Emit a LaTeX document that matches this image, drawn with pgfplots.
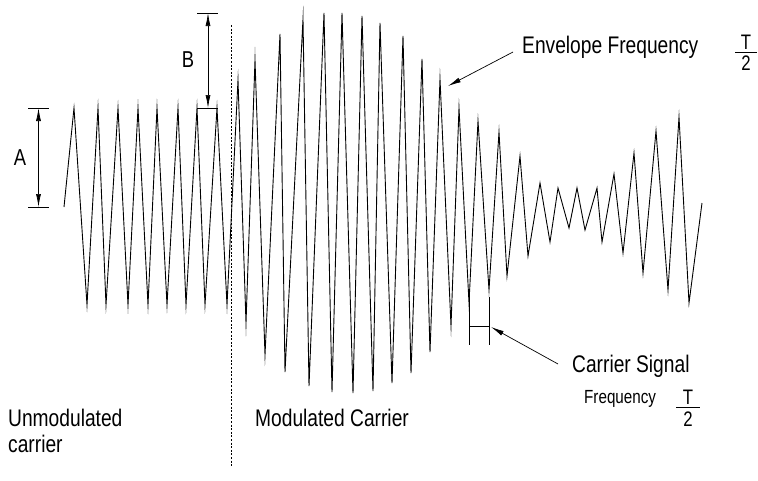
\documentclass[border=0pt]{standalone}
\usepackage{pgfplots}
\pgfplotsset{compat=1.18}
\usepackage{fontspec}
\setmainfont{Liberation Sans}[FakeStretch=0.8]
\usetikzlibrary{arrows.meta}
\pgfplotstableread{
x y
64 207
74 108
87 305
98 108
106 305
118 108
128 305
138 108
148 305
157 108
167 305
178 108
186 305
197 108
205 305
217 108
227 305
238 80
246 323
255 60
265 355
280 34
285 372
303 19
309 386
324 13
332 392
342 13
353 393
362 16
373 391
380 23
392 383
403 36
411 373
422 59
430 352
440 79
451 326
459 108
469 303
478 121
489 290
499 132
507 276
520 156
528 256
540 183
550 242
558 188
569 228
577 188
585 230
597 188
602 242
614 174
623 253
634 153
643 273
656 131
668 290
679 117
689 303
702 203
}\wave
\begin{document}
\begin{tikzpicture}[>={Latex[length=13pt,width=5pt]}]
\begin{axis}[
  x=1pt, y=1pt, scale only axis,
  xmin=0, xmax=758, ymin=0, ymax=480,
  y dir=reverse,
  hide axis, clip=false,
]
\addplot[black, line width=0.9pt, line join=miter, miter limit=30, mark=none] table {\wave};
% dashed separator
\draw[black, line width=0.8pt, dash pattern=on 2pt off 1.6pt] (axis cs:231,25) -- (axis cs:231,467);
% A dimension
\draw[black, line width=0.7pt] (axis cs:28,108) -- (axis cs:49,108);
\draw[black, line width=0.7pt] (axis cs:28,207) -- (axis cs:49,207);
\draw[black, line width=0.7pt, <->] (axis cs:38.5,108) -- (axis cs:38.5,207);
\node[font=\fontsize{23}{24}\selectfont] at (axis cs:20,158) {A};
% B dimension
\draw[black, line width=0.7pt] (axis cs:197,13) -- (axis cs:218,13);
\draw[black, line width=0.7pt] (axis cs:197,108) -- (axis cs:218,108);
\draw[black, line width=0.7pt, <->] (axis cs:208,13) -- (axis cs:208,108);
\node[font=\fontsize{23}{24}\selectfont] at (axis cs:188,60) {B};
% Envelope frequency
\draw[black, line width=0.7pt, ->] (axis cs:513,52) -- (axis cs:448,86);
\node[anchor=west, inner sep=0pt, font=\fontsize{24}{26}\selectfont] at (axis cs:522,47) {Envelope Frequency};
\draw[black, line width=0.7pt] (axis cs:735,52) -- (axis cs:757,52);
\node[font=\fontsize{21}{22}\selectfont] at (axis cs:746,42) {T};
\node[font=\fontsize{21}{22}\selectfont] at (axis cs:746,63) {2};
% Carrier signal dimension
\draw[black, line width=0.7pt] (axis cs:469,297) -- (axis cs:469,345);
\draw[black, line width=0.7pt] (axis cs:489,297) -- (axis cs:489,345);
\draw[black, line width=0.7pt] (axis cs:469,326) -- (axis cs:489,326);
\draw[black, line width=0.7pt, ->] (axis cs:558,364) -- (axis cs:491,327);
\node[anchor=west, inner sep=0pt, font=\fontsize{24}{26}\selectfont] at (axis cs:572,366) {Carrier Signal};
\node[anchor=west, inner sep=0pt, font=\fontsize{19}{20}\selectfont] at (axis cs:584,399) {Frequency};
\draw[black, line width=0.7pt] (axis cs:676,407) -- (axis cs:700,407);
\node[font=\fontsize{21}{22}\selectfont] at (axis cs:688,397) {T};
\node[font=\fontsize{21}{22}\selectfont] at (axis cs:688,419) {2};
% bottom labels
\node[anchor=west, inner sep=0pt, font=\fontsize{24}{26}\selectfont] at (axis cs:8,418) {Unmodulated};
\node[anchor=west, inner sep=0pt, font=\fontsize{24}{26}\selectfont] at (axis cs:8,444) {carrier};
\node[anchor=west, inner sep=0pt, font=\fontsize{24}{26}\selectfont] at (axis cs:255,418) {Modulated Carrier};
\end{axis}
\pgfresetboundingbox
\path (current axis.south west) rectangle (current axis.north east);
\end{tikzpicture}
\end{document}
